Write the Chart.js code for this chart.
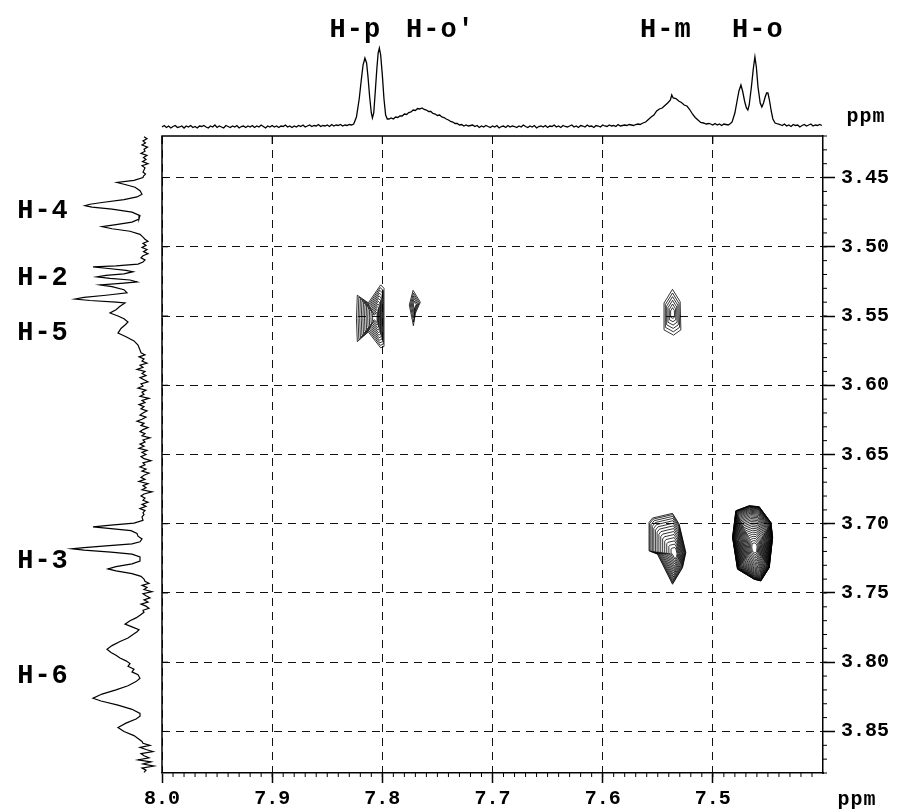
<!DOCTYPE html>
<html>
<head>
<meta charset="utf-8">
<script src="https://cdn.jsdelivr.net/npm/chart.js@4.4.1/dist/chart.umd.min.js"></script>
<style>
  html, body { margin: 0; padding: 0; background: #fff; }
  #wrap { position: relative; width: 899px; height: 812px; }
</style>
</head>
<body>
<div id="wrap"><canvas id="nmr" width="899" height="812"></canvas></div>
<script>
// axes (ppm)
const xRange = [7.4, 8.0];
const yRange = [3.42, 3.88];
const xTickValues = [8.0, 7.9, 7.8, 7.7, 7.6, 7.5];
const xTickLabels = ['8.0', '7.9', '7.8', '7.7', '7.6', '7.5'];
const yTickValues = [3.45, 3.50, 3.55, 3.60, 3.65, 3.70, 3.75, 3.80, 3.85];
const yTickLabels = ['3.45', '3.50', '3.55', '3.60', '3.65', '3.70', '3.75', '3.80', '3.85'];

// top projection (aromatic protons)
const topPpm = [
  8.000, 7.998, 7.996, 7.994, 7.992, 7.990, 7.988, 7.986, 7.984, 7.982,
  7.980, 7.978, 7.976, 7.974, 7.972, 7.970, 7.968, 7.966, 7.964, 7.962,
  7.960, 7.958, 7.956, 7.954, 7.952, 7.950, 7.948, 7.946, 7.944, 7.942,
  7.940, 7.938, 7.936, 7.934, 7.932, 7.930, 7.928, 7.926, 7.924, 7.922,
  7.920, 7.918, 7.916, 7.914, 7.912, 7.910, 7.908, 7.906, 7.904, 7.902,
  7.900, 7.898, 7.896, 7.894, 7.892, 7.890, 7.888, 7.886, 7.884, 7.882,
  7.880, 7.878, 7.876, 7.874, 7.872, 7.870, 7.868, 7.866, 7.864, 7.862,
  7.860, 7.858, 7.856, 7.854, 7.852, 7.850, 7.848, 7.846, 7.844, 7.842,
  7.840, 7.838, 7.836, 7.834, 7.832, 7.830, 7.828,
  7.826, 7.8235, 7.821, 7.819, 7.8175, 7.8158, 7.8143, 7.813, 7.8115, 7.810, 7.809, 7.8078, 7.8065, 7.805,
  7.8038, 7.8027, 7.8015, 7.800, 7.7985, 7.797, 7.7955,
  7.794, 7.792, 7.790, 7.788, 7.786, 7.784, 7.782, 7.780, 7.778, 7.776,
  7.774, 7.772, 7.770, 7.768, 7.766, 7.764, 7.762, 7.760, 7.758, 7.756,
  7.754, 7.752, 7.750, 7.748, 7.746, 7.744, 7.742, 7.740, 7.738, 7.736,
  7.734, 7.732, 7.730, 7.728, 7.726, 7.724, 7.722, 7.720,
  7.718, 7.716, 7.714, 7.712, 7.710, 7.708, 7.706, 7.704, 7.702, 7.700,
  7.698, 7.696, 7.694, 7.692, 7.690, 7.688, 7.686, 7.684, 7.682, 7.680,
  7.678, 7.676, 7.674, 7.672, 7.670, 7.668, 7.666, 7.664, 7.662, 7.660,
  7.658, 7.656, 7.654, 7.652, 7.650, 7.648, 7.646, 7.644, 7.642, 7.640,
  7.638, 7.636, 7.634, 7.632, 7.630, 7.628, 7.626, 7.624, 7.622, 7.620,
  7.618, 7.616, 7.614, 7.612, 7.610, 7.608, 7.606, 7.604, 7.602, 7.600,
  7.598, 7.596, 7.594, 7.592, 7.590, 7.588, 7.586, 7.584, 7.582, 7.580,
  7.578, 7.576, 7.574, 7.572, 7.570, 7.568,
  7.566, 7.5635, 7.561, 7.5585, 7.556, 7.5535, 7.551, 7.5485, 7.546, 7.5435, 7.541, 7.5385, 7.5373, 7.536,
  7.5335, 7.531, 7.5285, 7.526, 7.5235, 7.521, 7.5185, 7.516, 7.5135, 7.511, 7.5085, 7.506, 7.5035,
  7.502, 7.500, 7.498, 7.496, 7.494, 7.492, 7.490, 7.488, 7.486, 7.484,
  7.4825, 7.480, 7.478, 7.4763, 7.4745, 7.473, 7.471, 7.4695, 7.4682, 7.467, 7.465, 7.4633, 7.4618, 7.4605,
  7.459, 7.457, 7.4555, 7.454, 7.4525, 7.4512, 7.450, 7.4488, 7.447, 7.4455, 7.4435, 7.441,
  7.439, 7.437, 7.435, 7.433, 7.431, 7.429, 7.427, 7.425, 7.423, 7.421,
  7.419, 7.417, 7.415, 7.413, 7.411, 7.409, 7.407, 7.405, 7.403, 7.401
];
const topInt = [
  0, 1.5, -0.5, 1, -1, 0.5, 1.5, -0.5, 0, 1,
  -1, 1, 0, 1.5, -0.5, 0.5, -1, 1, 0.5, 1.5,
  0, -1, 1, 0, 2, -0.5, 1, 0, -1, 1.5,
  0.5, -0.5, 1, 0, 1.5, -1, 0.5, 1, -0.5, 1,
  0, 1.5, -0.5, 1, 0, 2, 0.5, -1, 1, 0,
  1.5, 0, 1, -0.5, 1, 0.5, 2, 0, 1, -0.5,
  1, 0, 1.5, 0.5, 2, 0, 1, 2, 0.5, 1.5,
  1, 2.5, 0.5, 1.5, 1, 2, 0.5, 2.5, 1, 2,
  1.5, 2.5, 1, 2, 1.5, 2.5, 2,
  3, 10, 28, 48, 62, 69, 64, 50, 30, 14, 9, 14, 34, 58,
  74, 79, 72, 52, 28, 12, 8,
  8, 9, 8, 10, 9.5, 11, 11, 13, 12.5, 14.5,
  15, 17, 16.5, 18.5, 18, 19, 17.5, 17, 15.5, 15.5,
  13.5, 13, 11.5, 12, 10, 9.5, 8, 7, 5.5, 5,
  3.5, 3.5, 2, 2.5, 1, 2, 1, 1.5,
  2, 0.5, 1.5, -0.5, 1, 0, 1.5, 0.5, -0.5, 1,
  0, 1.5, -1, 0.5, 1, -0.5, 1.5, 0, 1, 0.5,
  -0.5, 1, 0, 2, 0.5, -0.5, 1, 0, 1.5, -1,
  0.5, 1, 0, 1.5, -0.5, 1, 0.5, 2, 0, 1,
  -0.5, 1.5, 0.5, 0, 1, 2, 0, 1, -0.5, 1.5,
  1, 0, 2, 0.5, 1, -0.5, 1.5, 1, 0, 2,
  1, 0.5, 2, 1, 1.5, 0.5, 2.5, 1, 1.5, 2,
  1.5, 2.5, 2, 1.5, 2.5, 3,
  2.5, 4, 5, 7.5, 10, 12, 16, 18, 19, 21.5, 24, 27, 32, 29,
  28.5, 26, 24.5, 22, 21, 17.5, 13, 9.5, 7, 4.5, 4, 3, 3.5,
  3, 2, 3.5, 2, 3, 1.5, 3, 2.5, 2, 3.5,
  5, 14, 26, 36, 42, 36, 25, 19, 17, 22, 40, 58, 70, 60,
  40, 24, 20, 24, 30, 34, 34, 28, 16, 8, 4, 3,
  2.5, 1.5, 3, 1, 2, 0.5, 2.5, 1.5, 2, 0,
  1.5, 2.5, 1, 2, 3, 1, 2, 1.5, 2.5, 1.5
];

// left projection (sugar protons)
const leftPpm = [
  3.4205, 3.422, 3.4235, 3.425, 3.4265, 3.428, 3.4295, 3.431, 3.4325, 3.434,
  3.4355, 3.437, 3.4385, 3.440, 3.4415, 3.443, 3.4445, 3.446, 3.4475, 3.449,
  3.4500, 3.452, 3.4536, 3.4552, 3.457, 3.4595, 3.462, 3.464, 3.466, 3.468, 3.4693, 3.4703, 3.4713, 3.4728,
  3.475, 3.4775, 3.480, 3.4822, 3.4840, 3.4855, 3.487, 3.4888, 3.491, 3.493,
  3.4945, 3.496, 3.4975, 3.499, 3.5005, 3.502, 3.5035, 3.505, 3.5065, 3.508, 3.5095, 3.511,
  3.5125, 3.5138, 3.5145, 3.5155, 3.5170, 3.518, 3.5195, 3.5207, 3.5217, 3.5228, 3.524, 3.5254, 3.5262,
  3.5275, 3.5288, 3.531, 3.5333, 3.535, 3.5365, 3.5377, 3.5388, 3.540, 3.5406, 3.543, 3.5455, 3.5478,
  3.550, 3.552, 3.5543, 3.5565, 3.559, 3.5623, 3.565, 3.568, 3.571, 3.5746,
  3.5765, 3.578, 3.5795, 3.581, 3.5825, 3.584, 3.5855, 3.587, 3.5885, 3.590,
  3.5915, 3.593, 3.5945, 3.596, 3.5975, 3.599, 3.6005, 3.602, 3.6035, 3.605,
  3.6065, 3.608, 3.6095, 3.611, 3.6125, 3.614, 3.6155, 3.617, 3.6185, 3.620,
  3.6215, 3.623, 3.6245, 3.626, 3.6275, 3.629, 3.6305, 3.632, 3.6335, 3.635,
  3.6365, 3.638, 3.6395, 3.641, 3.6425, 3.644, 3.6455, 3.647, 3.6485, 3.650,
  3.6515, 3.653, 3.6545, 3.656, 3.6575, 3.659, 3.6605, 3.662, 3.6635, 3.665,
  3.6665, 3.668, 3.6695, 3.671, 3.6725, 3.674, 3.6755, 3.677, 3.6785, 3.680,
  3.6815, 3.683, 3.6845, 3.686, 3.6875, 3.689, 3.6905, 3.692, 3.6935, 3.695,
  3.6975, 3.6995, 3.7010, 3.7022, 3.7035, 3.705, 3.707, 3.709, 3.711, 3.713, 3.7145, 3.716, 3.7172,
  3.7181, 3.719, 3.7205, 3.722, 3.724, 3.727, 3.729, 3.731, 3.7326, 3.734, 3.736, 3.738, 3.740,
  3.7415, 3.743, 3.7445, 3.746, 3.7475, 3.749, 3.7505, 3.752, 3.7535, 3.755, 3.7565, 3.758, 3.7595, 3.761,
  3.7625, 3.764,
  3.766, 3.768, 3.770, 3.7725, 3.7745, 3.7765, 3.778, 3.780, 3.7825, 3.785, 3.788, 3.7906, 3.793, 3.795,
  3.797, 3.799, 3.801, 3.803, 3.805, 3.807, 3.809, 3.8116, 3.814, 3.817, 3.820, 3.823, 3.826, 3.828,
  3.831, 3.834, 3.837, 3.839, 3.841, 3.844, 3.8471, 3.850, 3.853, 3.8572,
  3.8585, 3.860, 3.8615, 3.863, 3.8645, 3.866, 3.8675, 3.869, 3.8705, 3.872, 3.8735, 3.875, 3.8765, 3.878,
  3.8795
];
const leftInt = [
  2, -1, 3, 0.5, 4, -1.5, 2, 1, 5, -1,
  2.5, 0, 3.5, -2, 4, 1, 2, 3, 0.5, 2.5,
  3, 12, 29, 20, 11, 6, 4, 9, 22, 44, 56, 61, 54, 34,
  14, 6, 7, 14, 30, 44, 34, 16, 6, 3,
  1, -2, 3, 0, 4, -1, 2.5, -2, 3, 5, 1, 3,
  8, 30, 53, 40, 20, 13, 22, 40, 49, 36, 16, 9, 22,
  46, 34, 22, 19, 40, 62, 71, 56, 30, 21, 26, 30, 36,
  28, 22, 18, 21, 25, 28, 20, 12, 8, 6,
  5, 1, 7, 2, 4, -1, 6, 3, 9, 1,
  4, 0, 6, 2, -2, 5, 3, 8, 0, 4,
  2, 6, -3, 4, 1, 7, 2, 5, -1, 3,
  6, 0, 4, 9, 2, 5, -2, 3, 6, 1,
  4, -4, 3, 1, 6, 2, 7, -1, 4, 0,
  5, 2, -5, 3, 1, 6, 0, 4, -3, 2,
  5, 1, 7, -2, 3, 0, 4, -6, 2, 5,
  1, 3, -2, 4, 0, 6, 1, 3, 2, 4,
  3, 12, 35, 53, 35, 15, 9, 8, 4, 6, 14, 40, 62,
  74, 62, 35, 14, 6, 6, 14, 30, 38, 30, 14, 5, 2,
  1, -3, 4, -1, 2, -6, 3, 0, -4, 2, -2, 5, 0, -3,
  3, 2,
  6, 10, 16, 21, 14, 7, 9, 13, 18, 26, 34, 39, 35, 30,
  26, 20, 16, 18, 12, 14, 8, 6, 10, 18, 30, 44, 53, 45,
  28, 14, 6, 6, 10, 20, 28, 22, 12, 4,
  3, -4, 6, 0, -7, 5, 2, -3, 8, -5, 3, -8, 4, 0,
  2
];

// cross peaks: outermost contour (ppm) and the point the levels close in on
const peakNames = ['H-p/H-5', 'H-o\u2032/H-5', 'H-m/H-5', 'H-m/H-3', 'H-o/H-3'];
const peakCenterX = [7.806, 7.7705, 7.5365, 7.534, 7.462];
const peakCenterY = [3.551, 3.542, 3.548, 3.722, 3.718];
const peakOutlineX = [
  [7.8227, 7.8127, 7.8015, 7.7985, 7.7985, 7.8015, 7.8127, 7.8227, 7.8235],
  [7.7721, 7.7655, 7.7700, 7.7718, 7.7755],
  [7.5366, 7.5297, 7.5290, 7.5357, 7.5443, 7.5443],
  [7.5579, 7.5548, 7.5366, 7.5306, 7.5245, 7.5275, 7.5366, 7.5503, 7.5579],
  [7.4670, 7.4579, 7.4473, 7.4457, 7.4488, 7.4564, 7.4624, 7.4776, 7.4821, 7.4791]
];
const peakOutlineY = [
  [3.5350, 3.5405, 3.5275, 3.5300, 3.5720, 3.5730, 3.5615, 3.5685, 3.5520],
  [3.5315, 3.5400, 3.5480, 3.5570, 3.5420],
  [3.5307, 3.5396, 3.5600, 3.5638, 3.5600, 3.5406],
  [3.6991, 3.6959, 3.6925, 3.7002, 3.7208, 3.7317, 3.7437, 3.7219, 3.7196],
  [3.6870, 3.6877, 3.6991, 3.7099, 3.7317, 3.7413, 3.7401, 3.7328, 3.7099, 3.6906]
];

// assignments
const topLabels = ['H-p', 'H-o\u2032', 'H-m', 'H-o'];
const topLabelPpm = [7.8245, 7.7473, 7.5427, 7.4591];
const leftLabels = ['H-4', 'H-2', 'H-5', 'H-3', 'H-6'];
const leftLabelPpm = [3.4746, 3.5225, 3.5623, 3.7268, 3.8101];

// contour drawing style
const contourLevels = [11, 5, 6, 14, 30];
const contourGamma = [1.0, 1.0, 1.0, 1.3, 1.8];

const monoBold = (size) => ({ family: '"Liberation Mono", "Courier New", monospace', size: size, weight: 'bold' });

const nmrDecor = {
  id: 'nmrDecor',
  afterDatasetsDraw(chart) {
    const { ctx, chartArea: a } = chart;
    const x = chart.scales.x, y = chart.scales.y;
    ctx.save();
    ctx.strokeStyle = '#000';
    ctx.fillStyle = '#000';

    // contours
    ctx.lineWidth = 0.8;
    peakCenterX.forEach((c, i) => {
      const cx = x.getPixelForValue(c), cy = y.getPixelForValue(peakCenterY[i]);
      const px = peakOutlineX[i].map(v => x.getPixelForValue(v));
      const py = peakOutlineY[i].map(v => y.getPixelForValue(v));
      const n = contourLevels[i];
      for (let k = 0; k < n; k++) {
        const s = 1 - Math.pow(k / n, contourGamma[i]) * 0.92;
        ctx.beginPath();
        px.forEach((p, j) => {
          const X = cx + (p - cx) * s, Y = cy + (py[j] - cy) * s;
          if (j) ctx.lineTo(X, Y); else ctx.moveTo(X, Y);
        });
        ctx.closePath();
        ctx.stroke();
      }
    });

    // top and left frame
    ctx.lineWidth = 1.5;
    ctx.beginPath();
    ctx.moveTo(a.left, a.bottom);
    ctx.lineTo(a.left, a.top);
    ctx.lineTo(a.right, a.top);
    ctx.stroke();

    // inner major ticks on top and left
    ctx.lineWidth = 1;
    ctx.beginPath();
    xTickValues.forEach(v => {
      const px = x.getPixelForValue(v);
      ctx.moveTo(px, a.top); ctx.lineTo(px, a.top + 8);
    });
    yTickValues.forEach(v => {
      const py = y.getPixelForValue(v);
      ctx.moveTo(a.left, py); ctx.lineTo(a.left + 6, py);
    });
    // minor ticks every 0.01 ppm
    for (let i = 741; i < 800; i++) {
      const px = x.getPixelForValue(i / 100);
      ctx.moveTo(px, a.bottom); ctx.lineTo(px, a.bottom + 4);
    }
    for (let i = 342; i <= 388; i++) {
      const py = y.getPixelForValue(i / 100);
      ctx.moveTo(a.right, py); ctx.lineTo(a.right + 4, py);
    }
    ctx.stroke();

    // labels
    ctx.textAlign = 'center';
    ctx.textBaseline = 'middle';
    ctx.letterSpacing = '1px';
    ctx.font = 'bold 27px "Liberation Mono", "Courier New", monospace';
    topLabels.forEach((t, i) => ctx.fillText(t, x.getPixelForValue(topLabelPpm[i]), 30));
    leftLabels.forEach((t, i) => ctx.fillText(t, 43, y.getPixelForValue(leftLabelPpm[i])));
    ctx.letterSpacing = '1px';
    ctx.font = 'bold 20px "Liberation Mono", "Courier New", monospace';
    ctx.fillText('ppm', 866, 117);
    ctx.fillText('ppm', 857, 800);
    ctx.restore();
  }
};

new Chart(document.getElementById('nmr'), {
  type: 'scatter',
  data: {
    datasets: [
      {
        label: 'F2 projection',
        data: topPpm.map((v, i) => ({ x: v, y: topInt[i] })),
        xAxisID: 'x', yAxisID: 'yTop',
        showLine: true, borderColor: '#000', borderWidth: 1.3, pointRadius: 0, clip: false
      },
      {
        label: 'F1 projection',
        data: leftPpm.map((v, i) => ({ x: leftInt[i], y: v })),
        xAxisID: 'xLeft', yAxisID: 'y',
        showLine: true, borderColor: '#000', borderWidth: 1.2, pointRadius: 0, clip: false
      }
    ]
  },
  options: {
    responsive: false,
    animation: false,
    layout: { padding: { left: 162, top: 136, right: 0, bottom: 0 } },
    plugins: { legend: { display: false }, tooltip: { enabled: false } },
    scales: {
      x: {
        type: 'linear', position: 'bottom', reverse: true, min: xRange[0], max: xRange[1],
        afterBuildTicks: s => { s.ticks = xTickValues.map(v => ({ value: v })); },
        afterFit: s => { s.height = 39; },
        ticks: { callback: (v, i) => xTickLabels[i], font: monoBold(20), color: '#000', padding: 4, maxRotation: 0, autoSkip: false },
        grid: { color: '#111', lineWidth: 1, tickLength: 10, tickWidth: 1.5, tickColor: '#000' },
        border: { color: '#000', width: 1.5, dash: [8, 6] }
      },
      y: {
        type: 'linear', position: 'right', reverse: true, min: yRange[0], max: yRange[1],
        afterBuildTicks: s => { s.ticks = yTickValues.map(v => ({ value: v })); },
        afterFit: s => { s.width = 76; },
        ticks: { callback: (v, i) => yTickLabels[i], font: monoBold(20), color: '#000', padding: 6, autoSkip: false },
        grid: { color: '#111', lineWidth: 1, tickLength: 12, tickWidth: 1.5, tickColor: '#000' },
        border: { color: '#000', width: 1.5, dash: [8, 6] }
      },
      yTop: { type: 'linear', display: false, min: -646, max: -9 },
      xLeft: { type: 'linear', display: false, reverse: true, min: -677, max: -16 }
    }
  },
  plugins: [nmrDecor]
});
</script>
</body>
</html>
